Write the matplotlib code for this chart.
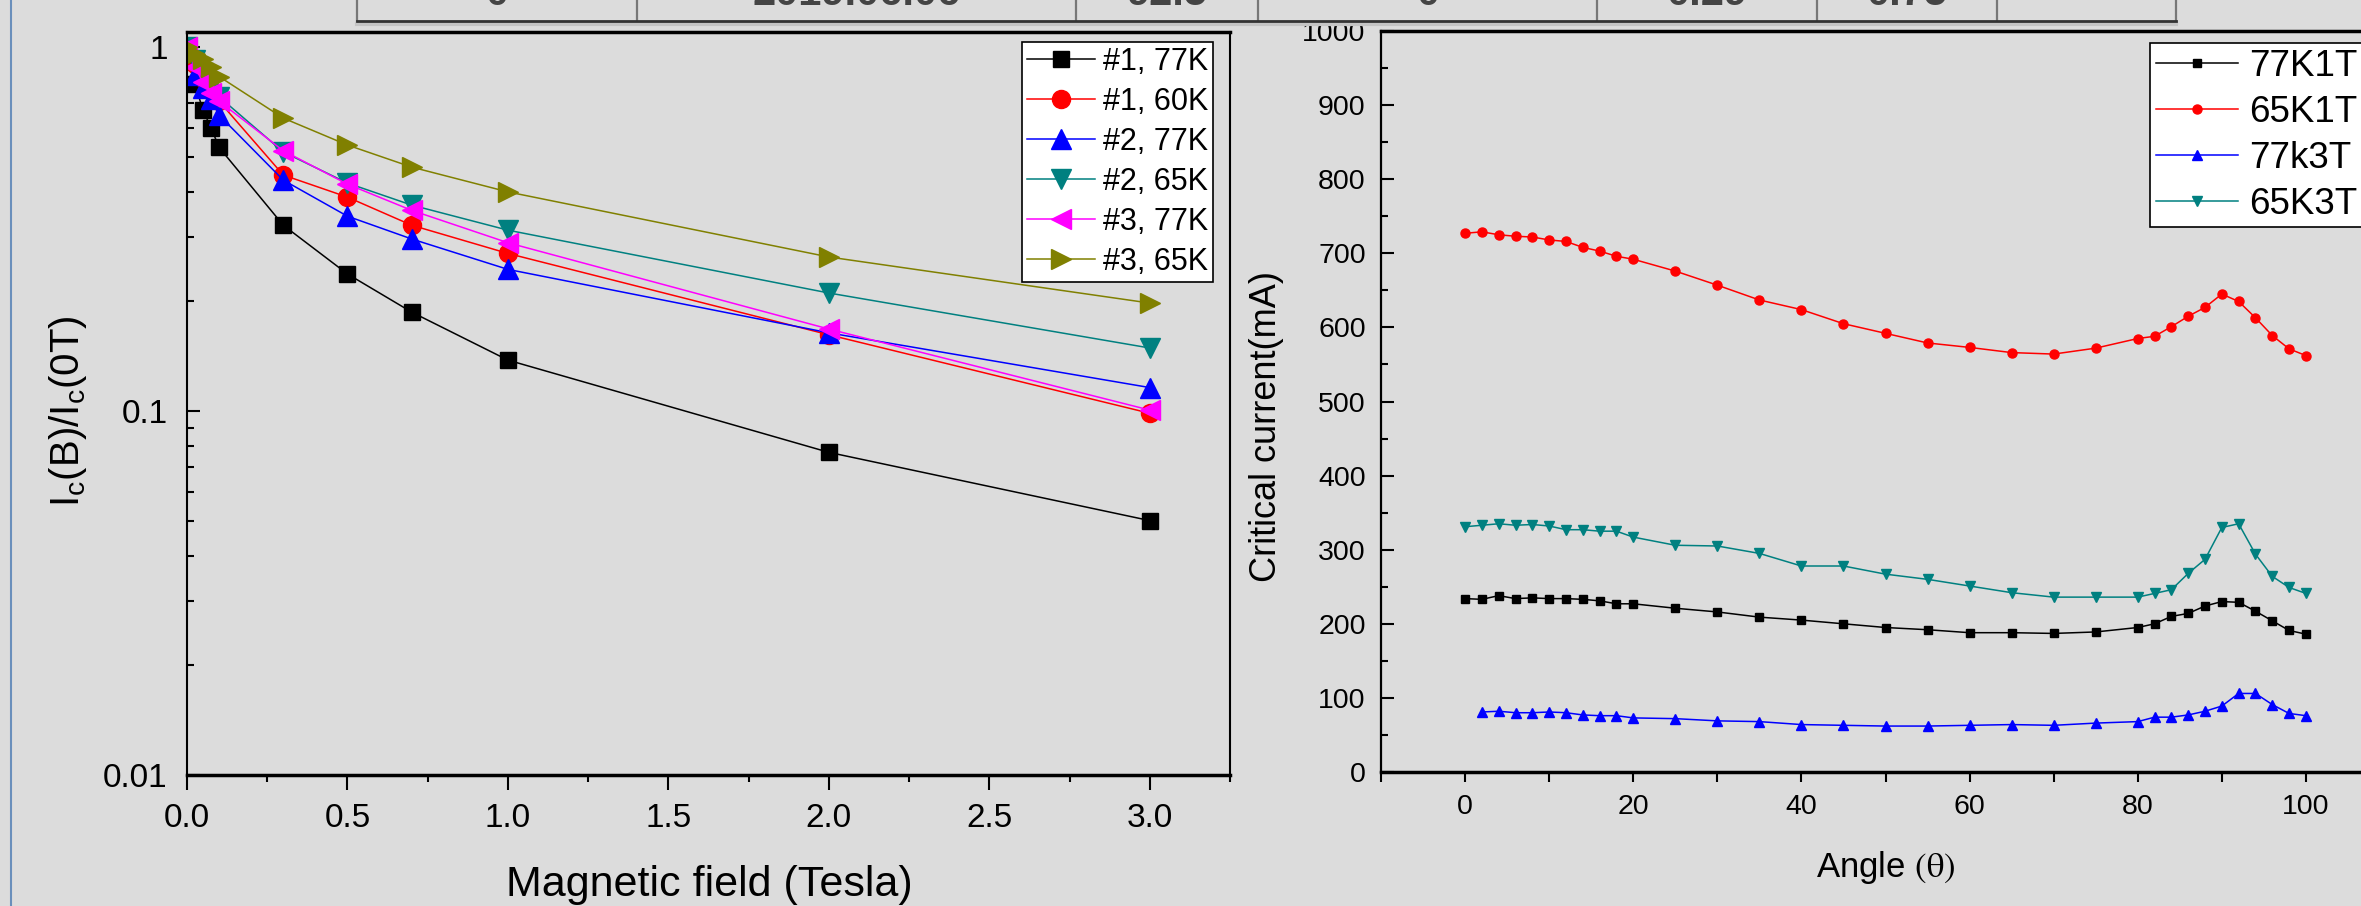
import matplotlib
matplotlib.use("Agg")
import matplotlib.pyplot as plt
from matplotlib.lines import Line2D
from matplotlib.ticker import MultipleLocator, FixedLocator, NullFormatter

plt.rcParams['font.family'] = ['Liberation Sans', 'DejaVu Sans']
plt.rcParams['mathtext.fontset'] = 'stix'

# ---------------- data: left panel ----------------
field = [0, 0.025, 0.05, 0.075, 0.1, 0.3, 0.5, 0.7, 1.0, 2.0, 3.0]
s1_77K = [1.0, 0.79, 0.67, 0.60, 0.53, 0.324, 0.238, 0.187, 0.138, 0.077, 0.050]
s1_60K = [1.0, 0.90, 0.82, 0.76, 0.71, 0.445, 0.387, 0.324, 0.271, 0.162, 0.0986]
s2_77K = [1.0, 0.84, 0.77, 0.72, 0.65, 0.431, 0.343, 0.297, 0.245, 0.164, 0.116]
s2_65K = [1.0, 0.92, 0.85, 0.78, 0.73, 0.515, 0.423, 0.368, 0.314, 0.211, 0.149]
s3_77K = [1.0, 0.88, 0.80, 0.75, 0.71, 0.519, 0.420, 0.356, 0.290, 0.168, 0.1006]
s3_65K = [1.0, 0.96, 0.93, 0.88, 0.83, 0.638, 0.538, 0.468, 0.400, 0.265, 0.198]
left_labels = ['#1, 77K', '#1, 60K', '#2, 77K', '#2, 65K', '#3, 77K', '#3, 65K']

# ---------------- data: right panel ----------------
angle = [0, 2, 4, 6, 8, 10, 12, 14, 16, 18, 20, 25, 30, 35, 40, 45, 50, 55, 60,
         65, 70, 75, 80, 82, 84, 86, 88, 90, 92, 94, 96, 98, 100]
ic_77K1T = [234, 233, 238, 234, 235, 234, 234, 233, 231, 227, 227, 221, 216, 209,
            205, 200, 195, 192, 188, 188, 187, 189, 195, 200, 210, 214, 224, 230,
            229, 217, 204, 191, 186]
ic_65K1T = [727, 729, 725, 723, 722, 718, 716, 708, 703, 696, 692, 676, 657, 637,
            624, 605, 592, 579, 573, 566, 564, 572, 585, 588, 601, 615, 627, 645,
            635, 613, 589, 571, 562]
angle_77k3T = angle[1:]
ic_77k3T = [81, 82, 80, 80, 81, 80, 77, 76, 76, 73, 72, 69, 68, 64, 63, 62, 62,
            63, 64, 63, 66, 68, 74, 74, 77, 82, 89, 106, 106, 91, 79, 76]
ic_65K3T = [331, 333, 335, 333, 334, 332, 327, 327, 325, 325, 317, 306, 305, 295,
            278, 278, 267, 260, 251, 242, 236, 236, 236, 241, 246, 268, 287, 330,
            335, 294, 264, 249, 241]
right_labels = ['77K1T', '65K1T', '77k3T', '65K3T']

# table fragments at the top (cut off in the original)
table_texts = ['0', '2019.06.06', '92.5', '0', '0.29', '0.75', '']

W, H = 2361, 906
BG = '#dcdcdc'
fig = plt.figure(figsize=(W / 100, H / 100), dpi=100, facecolor=BG)

# ---- top table (cut) ----
table_x = [357, 637, 1076, 1258, 1597, 1817, 1997, 2176]
for xv in table_x:
    fig.add_artist(Line2D([xv / W, xv / W], [1, 1 - 21 / H], color='#777777', lw=1.6))
fig.add_artist(Line2D([357 / W, 2176 / W], [1 - 24 / H, 1 - 24 / H], color='#c4c4c4', lw=3))
fig.add_artist(Line2D([357 / W, 2176 / W], [1 - 21 / H, 1 - 21 / H], color='#333333', lw=2))
for i, t in enumerate(table_texts):
    if t:
        cx = (table_x[i] + table_x[i + 1]) / 2
        fig.text(cx / W, 1 - 5 / H, t, ha='center', va='baseline', fontsize=30,
                 fontweight='bold', color='#444444')
# left window border
fig.add_artist(Line2D([11 / W, 11 / W], [0, 1], color='#6a8fbb', lw=1.5))

# ---------------- left axes ----------------
ax1 = fig.add_axes([187 / W, 1 - 775 / H, (1230 - 187) / W, (775 - 32) / H])
ax1.set_facecolor(BG)
series_l = [s1_77K, s1_60K, s2_77K, s2_65K, s3_77K, s3_65K]
colors_l = ['#000000', '#ff0000', '#0000ff', '#008080', '#ff00ff', '#808000']
markers_l = ['s', 'o', '^', 'v', '<', '>']
msz_l = [12, 13, 14, 14, 14, 14]
for ys, c, m, ms, lab in zip(series_l, colors_l, markers_l, msz_l, left_labels):
    ax1.plot(field, ys, color=c, marker=m, markersize=ms, lw=1.1, label=lab)
ax1.set_yscale('log')
ax1.set_xlim(0, 3.25)
ax1.set_ylim(0.01, 1.1)
ax1.xaxis.set_minor_locator(MultipleLocator(0.25))
ax1.set_xticks([0, 0.5, 1.0, 1.5, 2.0, 2.5, 3.0])
ax1.set_xticklabels(['0.0', '0.5', '1.0', '1.5', '2.0', '2.5', '3.0'])
ax1.yaxis.set_major_locator(FixedLocator([0.01, 0.1, 1]))
ax1.set_yticklabels(['0.01', '0.1', '1'])
minor_y = [k * d for d in (0.01, 0.1) for k in range(2, 10)]
ax1.yaxis.set_minor_locator(FixedLocator(minor_y))
ax1.yaxis.set_minor_formatter(NullFormatter())
ax1.tick_params(axis='x', which='major', direction='out', length=11, width=1.5,
                labelsize=24, pad=9)
ax1.tick_params(axis='x', which='minor', direction='out', length=5, width=1.5)
ax1.tick_params(axis='y', which='major', direction='in', length=9, width=1.5,
                labelsize=24, pad=14)
ax1.tick_params(axis='y', which='minor', direction='in', length=5, width=1.5)
for sp in ('top', 'bottom'):
    ax1.spines[sp].set_linewidth(2.5)
for sp in ('left', 'right'):
    ax1.spines[sp].set_linewidth(1.5)
leg1 = ax1.legend(loc='upper left', bbox_to_anchor=(1022 / W, 1 - 42 / H),
                  bbox_transform=fig.transFigure, fontsize=22, frameon=True,
                  fancybox=False, edgecolor='black', facecolor='white', framealpha=1,
                  handlelength=2.25, handletextpad=0.26, labelspacing=0.33,
                  borderpad=0.15, borderaxespad=0)
leg1.get_frame().set_linewidth(1.2)
fig.text(68 / W, 1 - 411 / H, r'$\mathregular{I_c(B)/I_c(0T)}$', rotation=90,
         ha='center', va='center', fontsize=29)
fig.text(709 / W, 1 - 885 / H, 'Magnetic field (Tesla)', ha='center', va='center',
         fontsize=31)

# ---------------- right axes ----------------
ax2 = fig.add_axes([1381 / W, 1 - 772 / H, (2390 - 1381) / W, (772 - 31) / H])
ax2.set_facecolor(BG)
ax2.plot(angle, ic_77K1T, color='#000000', marker='s', markersize=6, lw=1.1, label=right_labels[0])
ax2.plot(angle, ic_65K1T, color='#ff0000', marker='o', markersize=6.5, lw=1.1, label=right_labels[1])
ax2.plot(angle_77k3T, ic_77k3T, color='#0000ff', marker='^', markersize=7, lw=1.1, label=right_labels[2])
ax2.plot(angle, ic_65K3T, color='#008080', marker='v', markersize=7, lw=1.1, label=right_labels[3])
ax2.set_xlim(-10, 110)
ax2.set_ylim(0, 1000)
ax2.set_xticks([0, 20, 40, 60, 80, 100])
ax2.xaxis.set_minor_locator(MultipleLocator(10))
ax2.yaxis.set_major_locator(MultipleLocator(100))
ax2.yaxis.set_minor_locator(MultipleLocator(50))
ax2.tick_params(axis='x', which='major', direction='out', length=7, width=1.5,
                labelsize=20.5, pad=9)
ax2.tick_params(axis='x', which='minor', direction='out', length=7, width=1.5)
ax2.tick_params(axis='y', which='major', direction='in', length=9, width=1.5,
                labelsize=20.5, pad=11)
ax2.tick_params(axis='y', which='minor', direction='in', length=5, width=1.5)
for sp in ('top', 'bottom'):
    ax2.spines[sp].set_linewidth(2.5)
for sp in ('left', 'right'):
    ax2.spines[sp].set_linewidth(1.6)
leg2 = ax2.legend(loc='upper left', bbox_to_anchor=(2150 / W, 1 - 43 / H),
                  bbox_transform=fig.transFigure, fontsize=26.5, frameon=True,
                  fancybox=False, edgecolor='black', facecolor='white', framealpha=1,
                  handlelength=2.25, handletextpad=0.28, labelspacing=0.3,
                  borderpad=0.15, borderaxespad=0)
leg2.get_frame().set_linewidth(1.2)
fig.text(1267 / W, 1 - 426 / H, 'Critical current(mA)', rotation=90,
         ha='center', va='center', fontsize=26)
fig.text(1886 / W, 1 - 868 / H, r'Angle $\mathrm{(\theta)}$', ha='center', va='center',
         fontsize=25)

fig.savefig('out.png', dpi=100, facecolor=BG)
